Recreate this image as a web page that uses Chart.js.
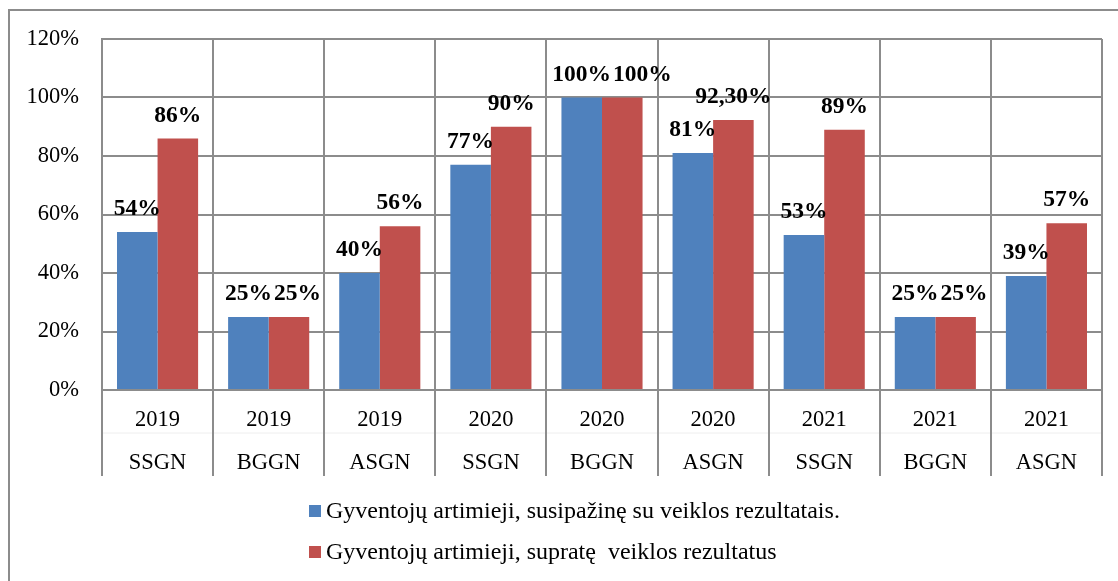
<!DOCTYPE html>
<html>
<head>
<meta charset="utf-8">
<script src="https://cdn.jsdelivr.net/npm/chart.js@4/dist/chart.umd.min.js"></script>
<style>
  html, body { margin: 0; padding: 0; background: #fff; }
  #wrap { position: relative; width: 1118px; height: 581px; overflow: hidden; background: #fff; }
  #frame { position: absolute; left: 8px; top: 9px; width: 1300px; height: 800px; border-top: 2px solid #8c8c8c; border-left: 2px solid #8c8c8c; box-sizing: border-box; }
  #c { position: absolute; left: 0; top: 0; }
  #legend { position: absolute; left: 309px; top: 490px; font-family: "Liberation Serif", "Times New Roman", serif; font-size: 24px; color: #000; }
  .item { display: flex; align-items: center; height: 41px; white-space: pre; }
  .box { width: 12px; height: 12px; margin-right: 5px; }
</style>
</head>
<body>
<div id="wrap">
  <div id="frame"></div>
  <canvas id="c" width="1118" height="581"></canvas>
  <div id="legend"></div>
</div>
<script>
const years = ['2019', '2019', '2019', '2020', '2020', '2020', '2021', '2021', '2021'];
const groups = ['SSGN', 'BGGN', 'ASGN', 'SSGN', 'BGGN', 'ASGN', 'SSGN', 'BGGN', 'ASGN'];
const seriesNames = ['Gyventojų artimieji, susipažinę su veiklos rezultatais.', 'Gyventojų artimieji, supratę  veiklos rezultatus'];
const familiarized = [54, 25, 40, 77, 100, 81, 53, 25, 39];
const understood = [86, 25, 56, 90, 100, 92.3, 89, 25, 57];
const yTicks = [0, 20, 40, 60, 80, 100, 120];
const colors = ['#4F81BD', '#C0504D'];

const FONT = '"Liberation Serif", "Times New Roman", serif';
const GRID = '#8c8c8c';

function fmt(v) {
  return Number.isInteger(v) ? v + '%' : v.toFixed(2).replace('.', ',') + '%';
}

const labels = years.map((y, i) => [y, groups[i]]);

const valueLabels = {
  id: 'valueLabels',
  afterDatasetsDraw(chart) {
    const ctx = chart.ctx;
    ctx.save();
    ctx.font = 'bold 23.5px ' + FONT;
    ctx.fillStyle = '#000';
    ctx.textAlign = 'center';
    ctx.textBaseline = 'middle';
    const m0 = chart.getDatasetMeta(0), m1 = chart.getDatasetMeta(1);
    const d0 = chart.data.datasets[0].data, d1 = chart.data.datasets[1].data;
    m0.data.forEach((b0, i) => {
      const b1 = m1.data[i];
      const t0 = fmt(d0[i]), t1 = fmt(d1[i]);
      const y0 = b0.y - 23, y1 = b1.y - 23;
      const w0 = ctx.measureText(t0).width, w1 = ctx.measureText(t1).width;
      let x1 = b1.x;
      // avoid overlapping labels at the same height
      if (Math.abs(y0 - y1) < 20) {
        const overlap = (b0.x + w0 / 2) - (x1 - w1 / 2);
        if (overlap > -2) x1 += overlap + 2;
      }
      ctx.fillText(t0, b0.x, y0);
      ctx.fillText(t1, x1, y1);
    });
    ctx.restore();
  }
};

const extendLines = {
  id: 'extendLines',
  afterDraw(chart) {
    const xs = chart.scales.x;
    const area = chart.chartArea;
    const ctx = chart.ctx;
    ctx.save();
    ctx.strokeStyle = '#eeeeee';
    ctx.lineWidth = 1;
    ctx.beginPath();
    ctx.moveTo(area.left, area.bottom + 43);
    ctx.lineTo(area.right, area.bottom + 43);
    ctx.stroke();
    ctx.strokeStyle = GRID;
    ctx.lineWidth = 2;
    for (let i = 0; i <= years.length; i++) {
      const x = Math.round(xs.getPixelForValue(i - 0.5));
      ctx.beginPath();
      ctx.moveTo(x, area.bottom);
      ctx.lineTo(x, area.bottom + 86);
      ctx.stroke();
    }
    ctx.restore();
  }
};

new Chart(document.getElementById('c'), {
  type: 'bar',
  data: {
    labels: labels,
    datasets: [
      { label: seriesNames[0], data: familiarized, backgroundColor: colors[0], borderWidth: 0 },
      { label: seriesNames[1], data: understood, backgroundColor: colors[1], borderWidth: 0 }
    ]
  },
  options: {
    responsive: false,
    animation: false,
    devicePixelRatio: 1,
    layout: { padding: { top: 39, right: 16, bottom: 0, left: 0 } },
    datasets: { bar: { categoryPercentage: 0.73, barPercentage: 1.0 } },
    plugins: {
      legend: { display: false },
      tooltip: { enabled: false }
    },
    scales: {
      x: {
        grid: { offset: true, color: GRID, lineWidth: 2, drawTicks: false },
        border: { color: GRID, width: 2 },
        ticks: {
          color: '#000',
          font: { family: FONT, size: 22.5, lineHeight: 1.92 },
          padding: 8,
          maxRotation: 0,
          autoSkip: false
        },
        afterFit(scale) { scale.height = 191; }
      },
      y: {
        min: 0,
        max: 120,
        afterBuildTicks(scale) { scale.ticks = yTicks.map(v => ({ value: v })); },
        grid: { color: GRID, lineWidth: 2, drawTicks: false },
        border: { color: GRID, width: 2 },
        ticks: {
          color: '#000',
          font: { family: FONT, size: 22.5 },
          padding: 23,
          callback: v => v + '%'
        },
        afterFit(scale) { scale.width = 102; }
      }
    }
  },
  plugins: [valueLabels, extendLines]
});

const legend = document.getElementById('legend');
seriesNames.forEach((name, i) => {
  const row = document.createElement('div');
  row.className = 'item';
  const box = document.createElement('span');
  box.className = 'box';
  box.style.background = colors[i];
  const txt = document.createElement('span');
  txt.textContent = name;
  row.appendChild(box);
  row.appendChild(txt);
  legend.appendChild(row);
});
</script>
</body>
</html>
